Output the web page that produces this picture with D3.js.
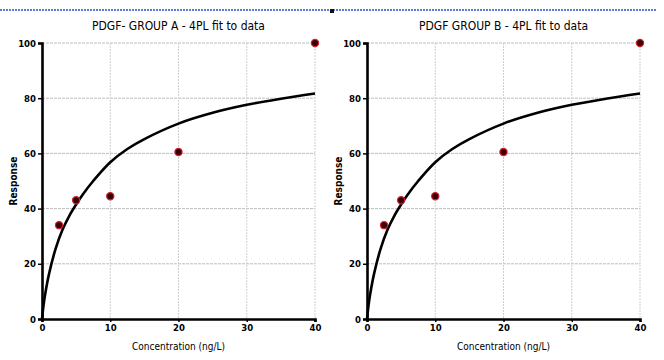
<!DOCTYPE html>
<html>
<head>
<title>d3</title>
<script src="https://d3js.org/d3.v7.min.js"></script>
<style>
  body { margin: 0; background: #fff; }
  text { font-family: "Liberation Sans Narrow", "DejaVu Sans Condensed", "Liberation Sans", sans-serif; }
</style>
</head>
<body>
<svg class="chart"></svg>
<script>

    // measured points (same in both groups)
    var concA = [2.5, 5, 10, 20, 40];
    var respA = [34, 43, 44.5, 60.5, 100];
    var concB = [2.5, 5, 10, 20, 40];
    var respB = [34, 43, 44.5, 60.5, 100];

    // 4PL fitted curve
    var fitConc = [0, 0.25, 0.5, 1, 2, 3, 4, 5, 6, 7.5, 10, 12.5, 15, 20, 25, 30, 35, 40];
    var fitResp = [0, 5.4, 9.5, 16, 25.5, 32.3, 37.4, 41.5, 45.2, 50, 56.8, 61.6, 65.2, 70.8, 74.7, 77.6, 79.8, 81.7];

    var xTicks = [0, 10, 20, 30, 40];
    var yTicks = [0, 20, 40, 60, 80, 100];
    var titles = ["PDGF- GROUP A - 4PL fit to data", "PDGF GROUP B - 4PL fit to data"];

    var svgWidth = 664, svgHeight = 360;
    var svg = d3.select('svg')
        .attr('width', svgWidth)
        .attr('height', svgHeight);

    // dotted blue line across the top
    svg.append('line')
        .attr('x1', 0).attr('x2', 656)
        .attr('y1', 10).attr('y2', 10)
        .attr('stroke', '#2a4fc4')
        .attr('stroke-width', 1.6)
        .attr('stroke-dasharray', '2,1');
    svg.append('rect')
        .attr('x', 330).attr('y', 9).attr('width', 4).attr('height', 4)
        .attr('fill', '#111');

    var panels = [
        { left: 42, right: 315, title: titles[0], conc: concA, resp: respA },
        { left: 367, right: 640, title: titles[1], conc: concB, resp: respB }
    ];

    var plotTop = 43, plotBottom = 319;

    panels.forEach(function (p) {
        var x = d3.scaleLinear().domain([0, 40]).range([p.left, p.right]);
        var y = d3.scaleLinear().domain([0, 100]).range([plotBottom, plotTop]);
        var g = svg.append('g');

        // grid
        g.selectAll('.hgrid')
            .data(yTicks.slice(1))
            .enter().append('line')
            .attr('x1', p.left).attr('x2', p.right)
            .attr('y1', function (d) { return y(d); })
            .attr('y2', function (d) { return y(d); })
            .attr('stroke', '#bdbdbd')
            .attr('stroke-width', 1)
            .attr('stroke-dasharray', '3,1');
        g.selectAll('.vgrid')
            .data(xTicks.slice(1))
            .enter().append('line')
            .attr('x1', function (d) { return x(d); })
            .attr('x2', function (d) { return x(d); })
            .attr('y1', plotTop).attr('y2', plotBottom)
            .attr('stroke', '#cfcfcf')
            .attr('stroke-width', 1)
            .attr('stroke-dasharray', '2,1');

        // axes
        var yAxis = g.append('g')
            .attr('transform', 'translate(' + p.left + ',0)')
            .call(d3.axisLeft(y).tickValues(yTicks).tickSize(4).tickPadding(2));
        var xAxis = g.append('g')
            .attr('transform', 'translate(0,' + plotBottom + ')')
            .call(d3.axisBottom(x).tickValues(xTicks).tickSize(3).tickPadding(2));
        [xAxis, yAxis].forEach(function (a) {
            a.select('.domain').attr('stroke', '#000').attr('stroke-width', 2.6);
            a.selectAll('.tick line').attr('stroke', '#000').attr('stroke-width', 1.5);
            a.selectAll('.tick text')
                .attr('fill', '#000')
                .style('font-size', '9.5px')
                .style('font-weight', 'bold');
        });

        // fitted curve
        var line = d3.line()
            .x(function (d) { return x(d[0]); })
            .y(function (d) { return y(d[1]); })
            .curve(d3.curveCatmullRom.alpha(0.5));
        g.append('path')
            .datum(d3.zip(fitConc, fitResp))
            .attr('d', line)
            .attr('fill', 'none')
            .attr('stroke', '#000')
            .attr('stroke-width', 2.6);

        // points
        g.selectAll('circle')
            .data(d3.zip(p.conc, p.resp))
            .enter().append('circle')
            .attr('cx', function (d) { return x(d[0]); })
            .attr('cy', function (d) { return y(d[1]); })
            .attr('r', 3.6)
            .attr('fill', '#3a0008')
            .attr('stroke', '#d0202a')
            .attr('stroke-width', 1.2);

        // labels
        var cx = (p.left + p.right) / 2;
        g.append('text')
            .attr('x', cx).attr('y', 30)
            .attr('text-anchor', 'middle')
            .style('font-size', '12px')
            .text(p.title);
        g.append('text')
            .attr('x', cx).attr('y', 350)
            .attr('text-anchor', 'middle')
            .style('font-size', '10px')
            .text('Concentration (ng/L)');
        g.append('text')
            .attr('transform', 'translate(' + (p.left - 25) + ',' + ((plotTop + plotBottom) / 2) + ') rotate(-90)')
            .attr('text-anchor', 'middle')
            .style('font-size', '10px')
            .style('font-weight', 'bold')
            .text('Response');
    });

</script>
</body>
</html>
